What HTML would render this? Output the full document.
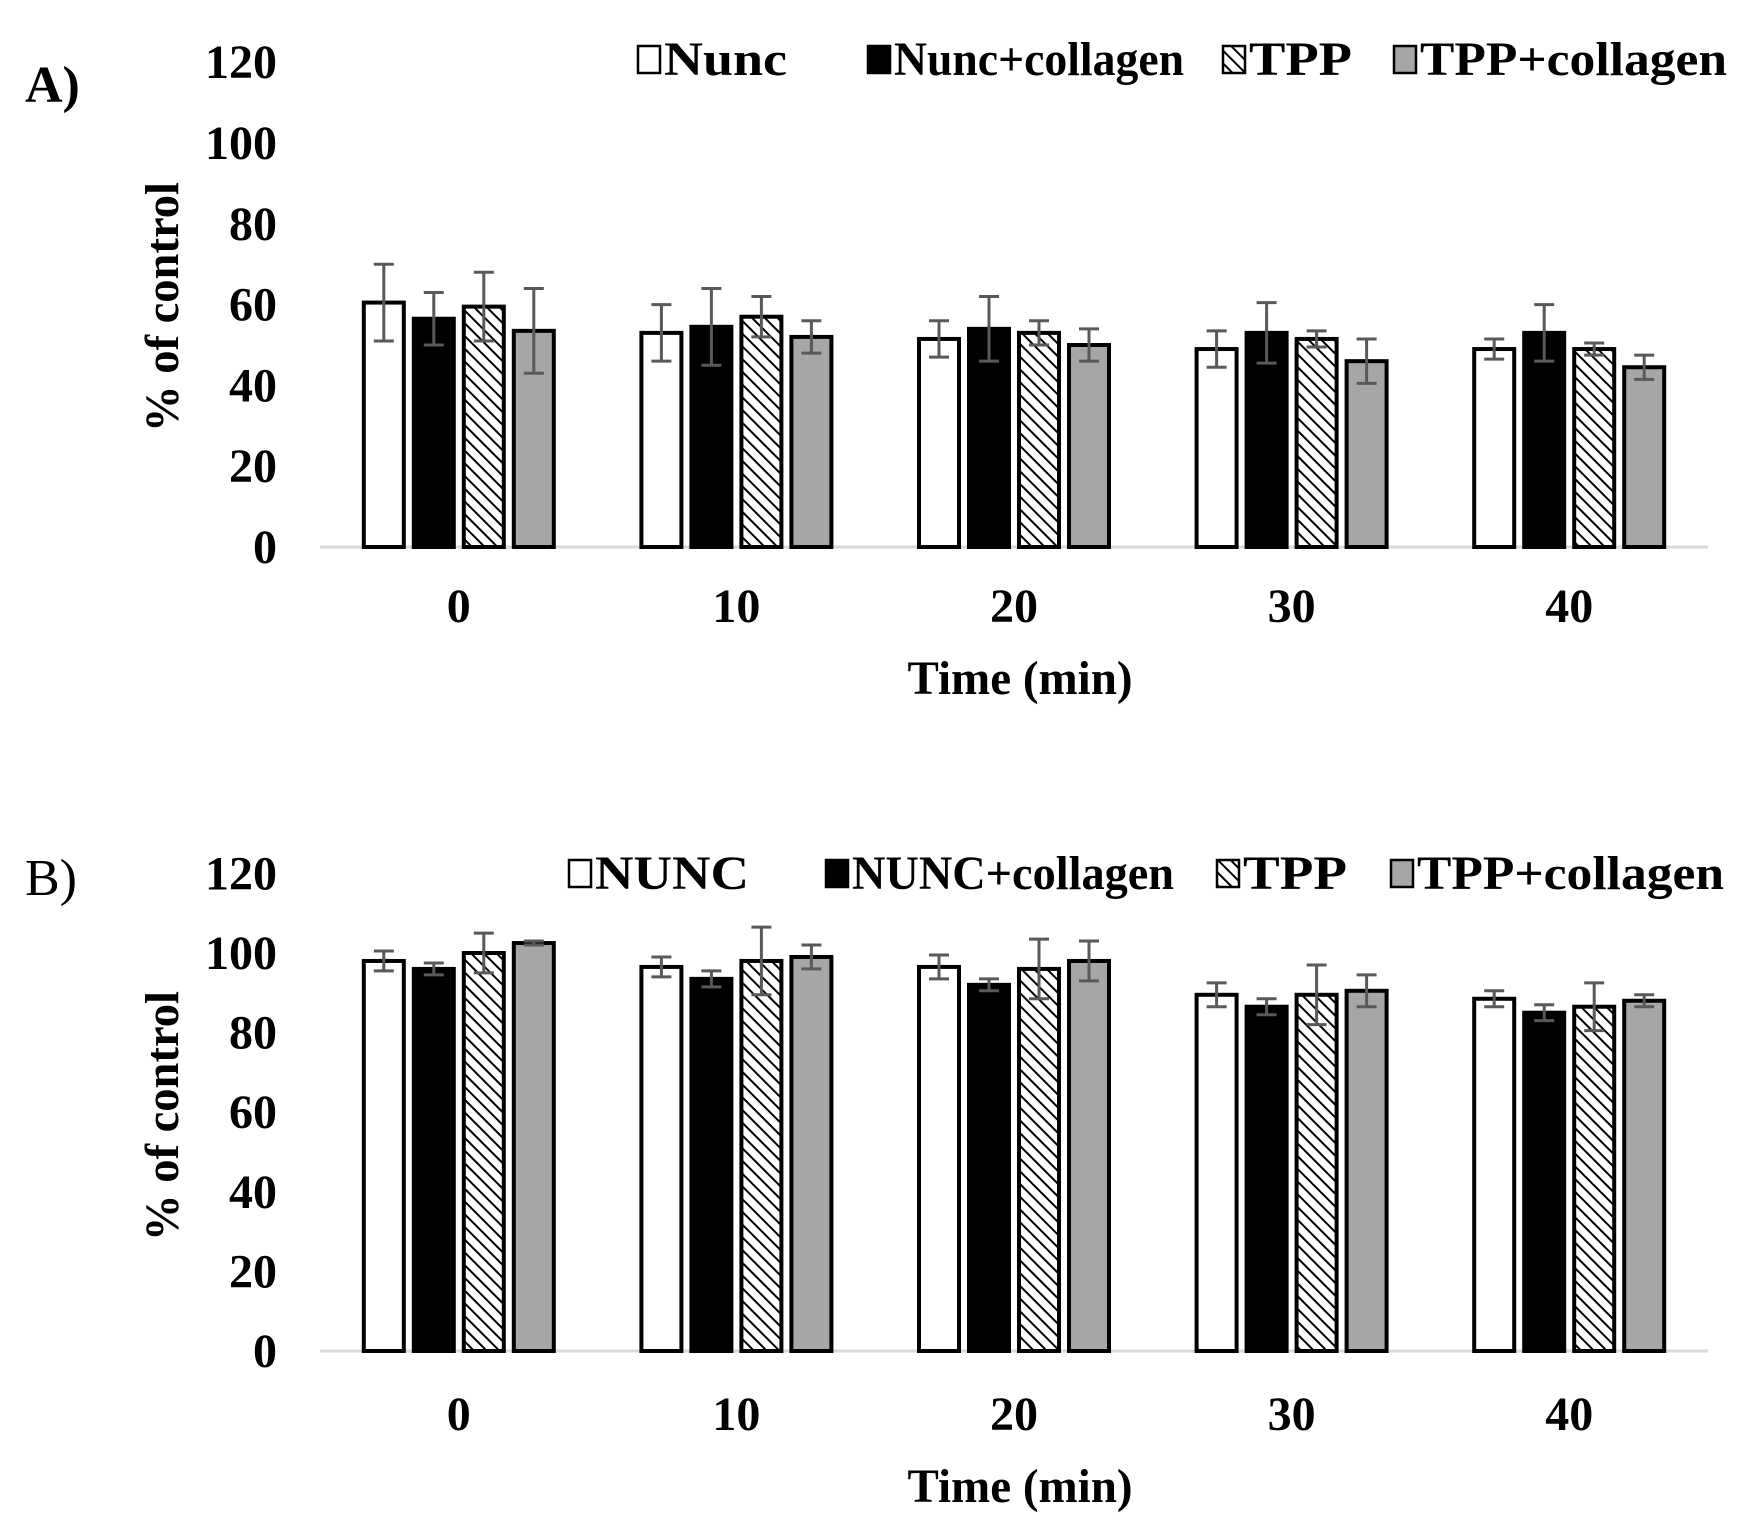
<!DOCTYPE html>
<html><head><meta charset="utf-8"><style>
html,body{margin:0;padding:0;background:#fff;}
svg{display:block;font-family:"Liberation Serif",serif;font-weight:bold;}
</style></head><body>
<svg id="fig" width="1758" height="1534" viewBox="0 0 1758 1534" xmlns="http://www.w3.org/2000/svg">
<defs>
<pattern id="hatch" patternUnits="userSpaceOnUse" width="9" height="9" patternTransform="rotate(-45)">
<rect width="9" height="9" fill="#fff"/><line x1="0" y1="0" x2="0" y2="9" stroke="#000" stroke-width="4"/>
</pattern>
</defs>
</svg>
<script>
const categories = ["0","10","20","30","40"];
const seriesNamesA = ["Nunc","Nunc+collagen","TPP","TPP+collagen"];
const seriesNamesB = ["NUNC","NUNC+collagen","TPP","TPP+collagen"];
const yTicks = [0,20,40,60,80,100,120];
const nuncA = [60.5,53,51.5,49,49];
const nuncCollA = [56.5,54.5,54,53,53];
const tppA = [59.5,57,53,51.5,49];
const tppCollA = [53.5,52,50,46,44.5];
const nuncAErr = [9.5,7,4.5,4.5,2.5];
const nuncCollAErr = [6.5,9.5,8,7.5,7];
const tppAErr = [8.5,5,3,2,1.5];
const tppCollAErr = [10.5,4,4,5.5,3];
const nuncB = [98,96.5,96.5,89.5,88.5];
const nuncCollB = [96,93.5,92,86.5,85];
const tppB = [100,98,96,89.5,86.5];
const tppCollB = [102.5,99,98,90.5,88];
const nuncBErr = [2.5,2.5,3,3,2];
const nuncCollBErr = [1.5,2,1.5,2,2];
const tppBErr = [5,8.5,7.5,7.5,6];
const tppCollBErr = [0.5,3,5,4,1.5];

const NS="http://www.w3.org/2000/svg";
const svg=document.getElementById('fig');
function mk(tag,attrs,parent){const e=document.createElementNS(NS,tag);for(const k in attrs)e.setAttribute(k,attrs[k]);(parent||svg).appendChild(e);return e;}
const fills=["#fff","#000","url(#hatch)","#a6a6a6"];
const X0=320,X1=1708,catW=(X1-X0)/5,barW=40,barGap=10;
function drawPanel(p){
  const g=mk('g',{});
  
  
  const yS=v=>p.base-v*p.ppu;
  const lab=mk('text',{x:25,y:p.labelY,'font-size':52,'font-weight':p.labelBold?'bold':'normal'},g);
  lab.textContent=p.label;
  
  
  yTicks.forEach(t=>{
    const tx=mk('text',{x:277,y:yS(t)+16,'text-anchor':'end','font-size':48},g);
    tx.textContent=t;
    
    
  });
  const yt=mk('text',{x:0,y:0,'text-anchor':'middle','font-size':48,textLength:250,lengthAdjust:'spacingAndGlyphs',transform:`translate(178,${p.titleY}) rotate(-90)`},g);
  yt.textContent="% of control";
  
  
  const ax=mk('line',{x1:X0,x2:X1,y1:p.base,y2:p.base,stroke:'#d9d9d9','stroke-width':3},g);
  
  
  categories.forEach((c,i)=>{
    const cx=X0+catW*(i+0.5);
    const tx=mk('text',{x:cx,y:p.tickY,'text-anchor':'middle','font-size':48},g);
    tx.textContent=c;
    
    
    const gx=cx-(4*barW+3*barGap)/2;
    p.series.forEach((s,j)=>{
      const v=s[i],e=p.errs[j][i];
      const x=gx+j*(barW+barGap);
      const r=mk('rect',{x:x,y:yS(v),width:barW,height:p.base-yS(v),fill:fills[j],stroke:'#000','stroke-width':4},g);
      
      
      const ex=x+barW/2;
      const eb=mk('path',{d:`M${ex},${yS(v+e)}V${yS(v-e)}M${ex-10},${yS(v+e)}H${ex+10}M${ex-10},${yS(v-e)}H${ex+10}`,stroke:'#595959','stroke-width':3,fill:'none'},g);
      
      
    });
  });
  const xt=mk('text',{x:1020,y:p.xtitleY,'text-anchor':'middle','font-size':48,textLength:225,lengthAdjust:'spacingAndGlyphs'},g);
  xt.textContent="Time (min)";
  
  
  p.legend.forEach((L,j)=>{
    const lg=mk('g',{},g);
    
    
    mk('rect',{x:L[0],y:p.legY-13,width:22,height:27,fill:fills[j],stroke:'#000','stroke-width':2.5},lg);
    const t=mk('text',{x:L[1],y:p.legY+16,'font-size':48,textLength:L[2]-L[1],lengthAdjust:'spacingAndGlyphs'},lg);
    t.textContent=p.names[j];
  });
}
drawPanel({id:'a',label:'A)',labelBold:true,labelY:102,base:547,ppu:4.04,titleY:307,tickY:622,xtitleY:694,
  series:[nuncA,nuncCollA,tppA,tppCollA],errs:[nuncAErr,nuncCollAErr,tppAErr,tppCollAErr],names:seriesNamesA,legY:59,
  legend:[[638,664,787],[868,894,1184],[1223,1249,1352],[1394,1420,1727]]});
drawPanel({id:'b',label:'B)',labelBold:false,labelY:895,base:1351,ppu:3.98,titleY:1116,tickY:1430,xtitleY:1502,
  series:[nuncB,nuncCollB,tppB,tppCollB],errs:[nuncBErr,nuncCollBErr,tppBErr,tppCollBErr],names:seriesNamesB,legY:873,
  legend:[[569,595,749],[826,852,1174],[1217,1243,1347],[1391,1417,1724]]});
</script>
</body></html>
